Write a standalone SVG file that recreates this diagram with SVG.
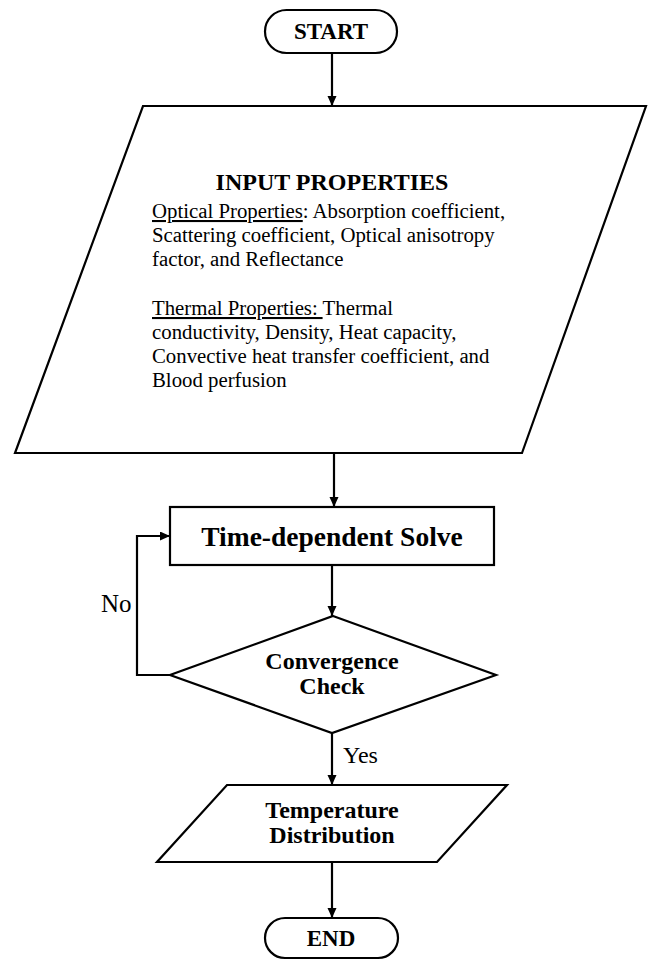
<svg xmlns="http://www.w3.org/2000/svg" width="648" height="961" viewBox="0 0 648 961">
<style>
.shape{fill:#fff;stroke:#000;stroke-width:2.2;stroke-linejoin:miter}
.conn{fill:none;stroke:#000;stroke-width:2.2}
.b{font-family:"Liberation Serif","Times New Roman",serif;font-weight:bold;fill:#000;text-anchor:middle}
.r{font-family:"Liberation Serif","Times New Roman",serif;fill:#000}
.u{text-decoration:underline}
</style>
<defs>
<marker id="ah" markerUnits="userSpaceOnUse" markerWidth="10" markerHeight="10" refX="10" refY="4.5" orient="auto">
<path d="M0,0 L10,4.5 L0,9 z" fill="#000"/>
</marker>
</defs>
<g id="connectors">
<line class="conn" x1="332" y1="53" x2="332" y2="106" marker-end="url(#ah)"/>
<line class="conn" x1="334" y1="453" x2="334" y2="507" marker-end="url(#ah)"/>
<line class="conn" x1="332" y1="565" x2="332" y2="616" marker-end="url(#ah)"/>
<polyline class="conn" points="170,675 137,675 137,536 170,536" marker-end="url(#ah)"/>
<line class="conn" x1="332" y1="733" x2="332" y2="785" marker-end="url(#ah)"/>
<line class="conn" x1="332" y1="862" x2="332" y2="918" marker-end="url(#ah)"/>
<text class="r" x="101" y="612" font-size="25">No</text>
<text class="r" x="343" y="763" font-size="24">Yes</text>
</g>
<g id="start">
<rect class="shape" x="265" y="10" width="132" height="43" rx="21.5" ry="21.5"/>
<text class="b" x="331" y="39" font-size="23">START</text>
</g>
<g id="input">
<polygon class="shape" points="143,106 646,106 522,453 15,453"/>
<text class="b" x="332" y="190" font-size="24">INPUT PROPERTIES</text>
<text class="r" font-size="20.8">
<tspan x="152" y="218"><tspan class="u">Optical Properties</tspan>: Absorption coefficient,</tspan>
<tspan x="152" y="242">Scattering coefficient, Optical anisotropy</tspan>
<tspan x="152" y="266">factor, and Reflectance</tspan>
<tspan x="152" y="315"><tspan class="u">Thermal Properties: </tspan>Thermal</tspan>
<tspan x="152" y="339">conductivity, Density, Heat capacity,</tspan>
<tspan x="152" y="363">Convective heat transfer coefficient, and</tspan>
<tspan x="152" y="387">Blood perfusion</tspan>
</text>
</g>
<g id="solve">
<rect class="shape" x="170" y="507" width="324" height="58"/>
<text class="b" x="332" y="546" font-size="27.5">Time-dependent Solve</text>
</g>
<g id="check">
<polygon class="shape" points="333,616 496,675 332,733 170,675"/>
<text class="b" x="332" y="669" font-size="24">Convergence</text>
<text class="b" x="332" y="694" font-size="24">Check</text>
</g>
<g id="output">
<polygon class="shape" points="227,785 507,785 437,862 157,862"/>
<text class="b" x="332" y="818" font-size="24">Temperature</text>
<text class="b" x="332" y="843" font-size="24">Distribution</text>
</g>
<g id="end">
<rect class="shape" x="265" y="918" width="133" height="40" rx="20" ry="20"/>
<text class="b" x="331" y="946" font-size="23">END</text>
</g>
</svg>
